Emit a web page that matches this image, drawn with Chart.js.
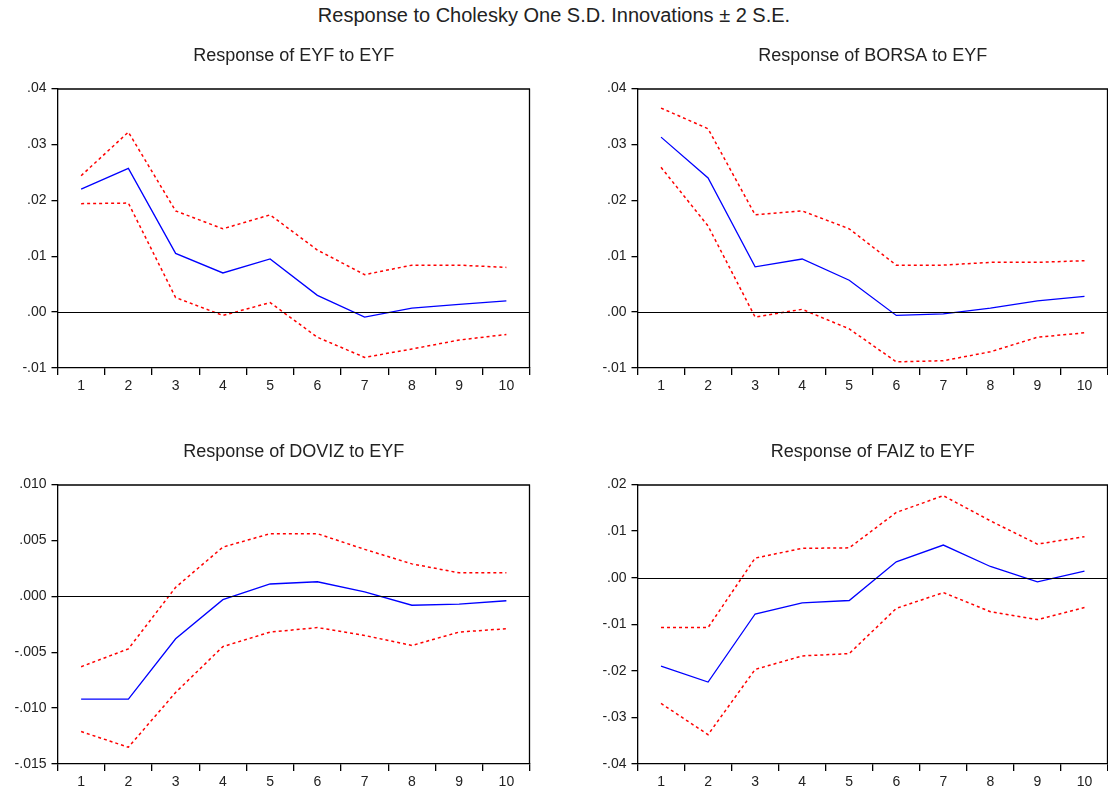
<!DOCTYPE html>
<html>
<head>
<meta charset="utf-8">
<script src="https://cdn.jsdelivr.net/npm/chart.js@4"></script>
<style>
  body { margin: 0; background: #fff; width: 1108px; height: 791px; overflow: hidden; position: relative; font-family: "Liberation Sans", Arial, sans-serif; }
  #mainTitle { position: absolute; left: 0; width: 1108px; top: 4px; text-align: center; font-size: 20px; color: #222; }
  canvas { position: absolute; }
</style>
</head>
<body>
<div id="mainTitle">Response to Cholesky One S.D. Innovations ± 2 S.E.</div>
<canvas id="c1" style="left:0px;top:30px;width:560px;height:368px"></canvas>
<canvas id="c2" style="left:580px;top:30px;width:528px;height:368px"></canvas>
<canvas id="c3" style="left:0px;top:426px;width:560px;height:368px"></canvas>
<canvas id="c4" style="left:580px;top:426px;width:528px;height:368px"></canvas>
<script>
const periods = ["1", "2", "3", "4", "5", "6", "7", "8", "9", "10"];

// Response of EYF to EYF
const eyfResp  = [0.0220, 0.0257, 0.0105, 0.0070, 0.0095, 0.0030, -0.0009, 0.0007, 0.0014, 0.0020];
const eyfUpper = [0.0244, 0.0322, 0.0181, 0.0149, 0.0174, 0.0111, 0.0067, 0.0084, 0.0084, 0.0080];
const eyfLower = [0.0194, 0.0195, 0.0026, -0.0006, 0.0017, -0.0045, -0.0081, -0.0066, -0.0050, -0.0040];

// Response of BORSA to EYF
const borsaResp  = [0.0313, 0.0240, 0.0081, 0.0095, 0.0057, -0.0006, -0.0003, 0.0007, 0.0020, 0.0028];
const borsaUpper = [0.0365, 0.0328, 0.0174, 0.0181, 0.0149, 0.0084, 0.0084, 0.0089, 0.0089, 0.0092];
const borsaLower = [0.0259, 0.0154, -0.0009, 0.0005, -0.0030, -0.0089, -0.0087, -0.0071, -0.0045, -0.0037];

// Response of DOVIZ to EYF
const dovizResp  = [-0.0092, -0.0092, -0.0038, -0.0003, 0.0011, 0.0013, 0.0004, -0.0008, -0.0007, -0.0004];
const dovizUpper = [-0.0063, -0.0047, 0.0008, 0.0044, 0.0056, 0.0056, 0.0042, 0.0029, 0.0021, 0.0021];
const dovizLower = [-0.0121, -0.0135, -0.0086, -0.0045, -0.0032, -0.0028, -0.0035, -0.0044, -0.0032, -0.0029];

// Response of FAIZ to EYF
const faizResp  = [-0.0190, -0.0224, -0.0078, -0.0054, -0.0049, 0.0034, 0.0070, 0.0024, -0.0009, 0.0014];
const faizUpper = [-0.0107, -0.0107, 0.0042, 0.0063, 0.0064, 0.0140, 0.0176, 0.0122, 0.0072, 0.0088];
const faizLower = [-0.0270, -0.0337, -0.0197, -0.0168, -0.0163, -0.0066, -0.0032, -0.0073, -0.0090, -0.0064];

const fontFamily = '"Liberation Sans", Arial, sans-serif';

// box around plot area + zero line
const framePlugin = {
    id: "frame",
    afterDraw(chart) {
        const { ctx, chartArea, scales } = chart;
        ctx.save();
        ctx.strokeStyle = "#000";
        ctx.lineWidth = 1.3;
        ctx.beginPath();
        ctx.moveTo(chartArea.left, chartArea.top + 0.5);
        ctx.lineTo(chartArea.right, chartArea.top + 0.5);
        ctx.moveTo(chartArea.right - 0.5, chartArea.top);
        ctx.lineTo(chartArea.right - 0.5, chartArea.bottom);
        ctx.stroke();
        ctx.lineWidth = 1;
        ctx.beginPath();
        const y0 = Math.round(scales.y.getPixelForValue(0)) + 0.5;
        ctx.moveTo(chartArea.left, y0);
        ctx.lineTo(chartArea.right, y0);
        ctx.stroke();
        ctx.restore();
    }
};

function fmt(decimals) {
    return (v) => {
        const s = Math.abs(v).toFixed(decimals).replace(/^0/, "");
        return (v < -1e-9 ? "-" : "") + s;
    };
}

function makeChart(id, title, resp, upper, lower, yMin, yMax, step, decimals, padRight) {
    const dashed = { borderColor: "#ff0000", borderWidth: 1.5, borderDash: [3, 3], pointRadius: 0, tension: 0, fill: false };
    return new Chart(document.getElementById(id), {
        type: "line",
        data: {
            labels: periods,
            datasets: [
                { data: resp, borderColor: "#0000ff", borderWidth: 1.3, pointRadius: 0, tension: 0, fill: false },
                { data: upper, ...dashed },
                { data: lower, ...dashed }
            ]
        },
        options: {
            responsive: false,
            animation: false,
            layout: { padding: { left: 0, right: padRight, top: 0, bottom: 0 } },
            plugins: {
                legend: { display: false },
                tooltip: { enabled: false },
                title: {
                    display: true,
                    text: title,
                    fullSize: false,
                    color: "#222",
                    font: { family: fontFamily, size: 18, weight: "normal" },
                    padding: { top: 15.7, bottom: 21.2 }
                }
            },
            scales: {
                x: {
                    offset: true,
                    grid: { offset: true, drawOnChartArea: false, drawTicks: true, tickLength: 7, color: "#000", lineWidth: 1.3 },
                    border: { display: true, color: "#000", width: 1.3 },
                    ticks: { color: "#222", padding: 3, maxRotation: 0, autoSkip: false, font: { family: fontFamily, size: 14 } },
                    afterFit: (s) => { s.height = 30; }
                },
                y: {
                    min: yMin,
                    max: yMax,
                    grid: { drawOnChartArea: false, drawTicks: true, tickLength: 6, color: "#000", lineWidth: 1.3 },
                    border: { display: true, color: "#000", width: 1.3 },
                    ticks: { stepSize: step, color: "#222", padding: 5, callback: fmt(decimals), font: { family: fontFamily, size: 14 } },
                    afterFit: (s) => { s.width = 57.5; }
                }
            }
        },
        plugins: [framePlugin]
    });
}

makeChart("c1", "Response of EYF to EYF", eyfResp, eyfUpper, eyfLower, -0.01, 0.04, 0.01, 2, 30);
makeChart("c2", "Response of BORSA to EYF", borsaResp, borsaUpper, borsaLower, -0.01, 0.04, 0.01, 2, 0);
makeChart("c3", "Response of DOVIZ to EYF", dovizResp, dovizUpper, dovizLower, -0.015, 0.010, 0.005, 3, 30);
makeChart("c4", "Response of FAIZ to EYF", faizResp, faizUpper, faizLower, -0.04, 0.02, 0.01, 2, 0);
</script>
</body>
</html>
